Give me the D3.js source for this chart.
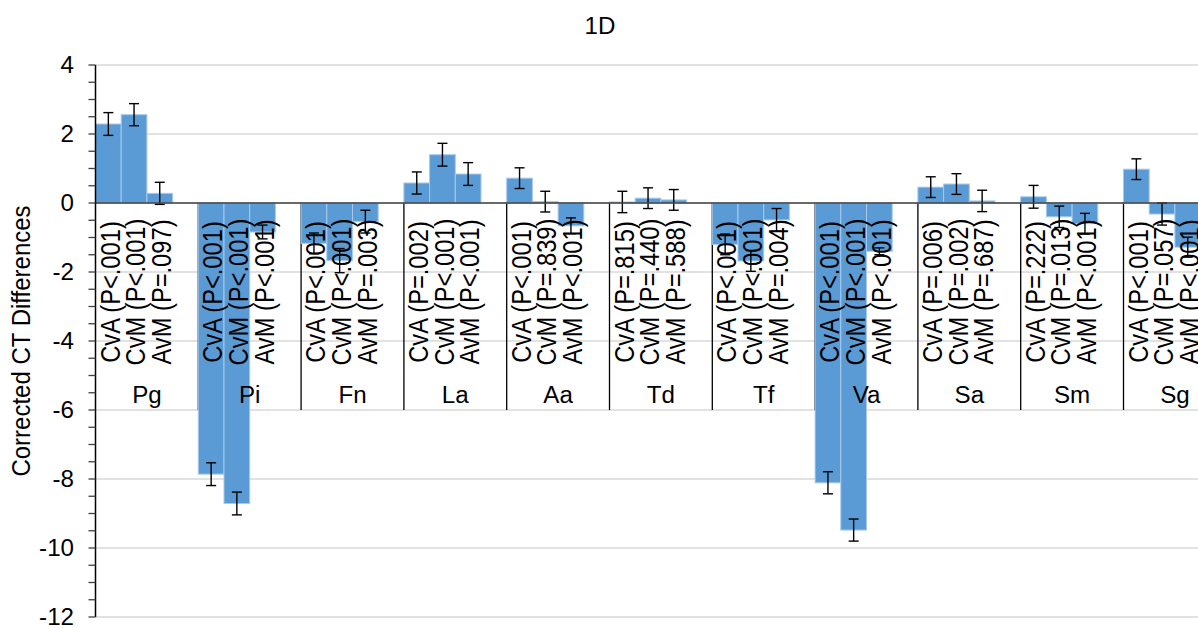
<!DOCTYPE html>
<html><head><meta charset="utf-8">
<script src="https://cdn.jsdelivr.net/npm/d3@7"></script>
<style>html,body{margin:0;padding:0;background:#fff;overflow:hidden}svg{display:block;font-family:"Liberation Sans",Arial,sans-serif}</style>
</head><body>
<svg id="c" width="1198" height="628"></svg>
<script>
const categories = ["Pg","Pi","Fn","La","Aa","Td","Tf","Va","Sa","Sm","Sg"];
const seriesNames = ["CvA","CvM","AvM"];
const cvaValues = [2.29, -7.86, -1.17, 0.58, 0.72, 0.03, -1.20, -8.11, 0.46, 0.18, 0.98];
const cvmValues = [2.56, -8.71, -1.67, 1.40, 0.04, 0.14, -1.68, -9.48, 0.55, -0.40, -0.32];
const avmValues = [0.28, -0.84, -0.54, 0.84, -0.66, 0.09, -0.49, -1.40, 0.06, -0.60, -1.28];
const cvaErrors = [0.33, 0.33, 0.30, 0.32, 0.30, 0.31, 0.30, 0.32, 0.30, 0.33, 0.30];
const cvmErrors = [0.32, 0.33, 0.35, 0.33, 0.30, 0.30, 0.30, 0.32, 0.30, 0.31, 0.32];
const avmErrors = [0.32, 0.20, 0.33, 0.33, 0.23, 0.30, 0.33, 0.10, 0.31, 0.30, 0.29];
const cvaP = ["P<.001","P<.001","P<.001","P=.002","P<.001","P=.815","P<.001","P<.001","P=.006","P=.222","P<.001"];
const cvmP = ["P<.001","P<.001","P<.001","P<.001","P=.839","P=.440","P<.001","P<.001","P=.002","P=.013","P=.057"];
const avmP = ["P=.097","P<.001","P=.003","P<.001","P<.001","P=.588","P=.004","P<.001","P=.687","P<.001","P<.001"];
const yTicks = [-12,-10,-8,-6,-4,-2,0,2,4];
const chartTitle = "1D";
const yTitle = "Corrected CT Differences";

const values = [cvaValues, cvmValues, avmValues];
const errors = [cvaErrors, cvmErrors, avmErrors];
const pvals = [cvaP, cvmP, avmP];
const SX = 1.05;

const svg = d3.select("#c");
const left = 95.5, step = 102.8;
const x = d3.scaleBand().domain(categories).range([left, left + step*categories.length]).padding(0);
// 4 slots per category (last slot empty, as in the source chart)
const xs = d3.scaleBand().domain([0,1,2,3]).range([0, x.bandwidth()]).padding(0);
const y = d3.scaleLinear().domain([-12, 4]).range([617, 65]);
const plotRight = x.range()[1];

// gridlines
svg.append("g").selectAll("line").data(yTicks).join("line")
  .attr("x1", left).attr("x2", plotRight)
  .attr("y1", d=>y(d)).attr("y2", d=>y(d))
  .attr("stroke", "#d9d9d9").attr("stroke-width", 1.3);

// category label area separators
svg.append("g").selectAll("line").data(categories.slice(1)).join("line")
  .attr("x1", d=>x(d)).attr("x2", d=>x(d))
  .attr("y1", y(0)).attr("y2", y(-6))
  .attr("stroke", "#000").attr("stroke-width", 1.3);

// bars
const bars = svg.append("g");
categories.forEach((c, i) => {
  seriesNames.forEach((s, j) => {
    const v = values[j][i];
    bars.append("rect")
      .attr("x", x(c) + xs(j)).attr("width", xs.bandwidth())
      .attr("y", y(Math.max(0, v))).attr("height", Math.abs(y(v) - y(0)))
      .attr("fill", "#5b9bd5").attr("stroke", "#a8c9ea").attr("stroke-width", 1);
  });
});

// rotated series labels and category names (drawn over bars)
const lab = svg.append("g");
categories.forEach((c, i) => {
  seriesNames.forEach((s, j) => {
    const cx = x(c) + xs(j) + xs.bandwidth()/2;
    lab.append("text")
      .attr("transform", `translate(${cx + 1.5},292) scale(1.14,1) rotate(-90)`)
      .attr("dy", "0.36em")
      .attr("text-anchor", "middle")
      .attr("font-size", 23.7).attr("fill", "#000")
      .text(`${s} (${pvals[j][i]})`);
  });
  lab.append("text").attr("transform", `translate(${x(c) + x.bandwidth()/2},403) scale(${SX},1)`)
    .attr("text-anchor", "middle").attr("font-size", 23).attr("fill", "#000").text(c);
});

// error bars
const eb = svg.append("g").attr("stroke", "#000").attr("stroke-width", 1.4);
categories.forEach((c, i) => {
  seriesNames.forEach((s, j) => {
    const v = values[j][i], e = errors[j][i];
    const cx = x(c) + xs(j) + xs.bandwidth()/2;
    eb.append("line").attr("x1", cx).attr("x2", cx).attr("y1", y(v+e)).attr("y2", y(v-e));
    [v+e, v-e].forEach(t => eb.append("line").attr("x1", cx-5).attr("x2", cx+5).attr("y1", y(t)).attr("y2", y(t)));
  });
});

// zero line
svg.append("line").attr("x1", left).attr("x2", plotRight).attr("y1", y(0)).attr("y2", y(0))
  .attr("stroke", "#404040").attr("stroke-width", 1.3);

// y axis
const minor = d3.range(-12, 4.01, 0.5);
const ax = svg.append("g");
ax.append("line").attr("x1", left).attr("x2", left).attr("y1", y(4)).attr("y2", y(-12)).attr("stroke", "#000").attr("stroke-width", 1.5);
ax.selectAll(".mt").data(minor).join("line")
  .attr("x1", left - 7).attr("x2", left).attr("y1", d=>y(d)).attr("y2", d=>y(d))
  .attr("stroke", "#404040").attr("stroke-width", 1.3);
ax.selectAll("text").data(yTicks).join("text")
  .attr("transform", d=>`translate(74,${y(d)}) scale(${SX},1)`).attr("dy", "0.36em")
  .attr("text-anchor", "end").attr("font-size", 23).attr("fill", "#000")
  .text(d=>d);

// titles
svg.append("text").attr("transform", `translate(600,34) scale(${SX},1)`).attr("text-anchor", "middle")
  .attr("font-size", 23).attr("fill", "#000").text(chartTitle);
svg.append("text").attr("transform", `translate(30,341) scale(1.1,1) rotate(-90)`)
  .attr("text-anchor", "middle").attr("font-size", 24).attr("fill", "#000").text(yTitle);
</script>
</body></html>
